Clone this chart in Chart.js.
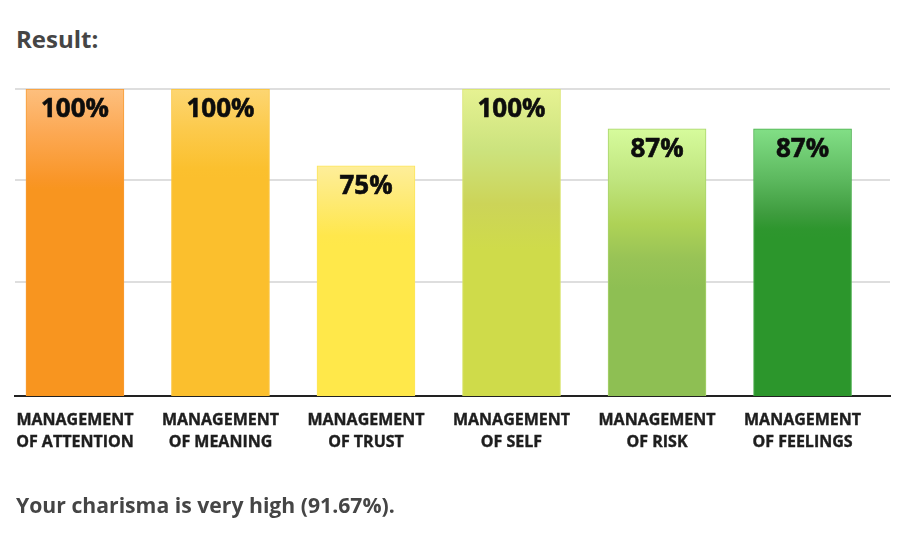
<!DOCTYPE html>
<html>
<head>
<meta charset="utf-8">
<script src="https://cdn.jsdelivr.net/npm/chart.js@4/dist/chart.umd.min.js"></script>
<style>
  html, body { margin: 0; padding: 0; background: #fff; }
  body { width: 909px; height: 535px; position: relative; overflow: hidden; font-family: 'Open Sans', sans-serif; }
  .txt { position: absolute; left: 16px; font-weight: 700; color: #454545; white-space: nowrap; }
  #head { top: 22px; font-size: 24px; }
  #foot { top: 490px; font-size: 21.2px; }
  #wrap { position: absolute; left: 0; top: 0; width: 909px; height: 535px; }
</style>
</head>
<body>
<div class="txt" id="head">Result:</div>
<div id="wrap"><canvas id="chart"></canvas></div>
<div class="txt" id="foot">Your charisma is very high (91.67%).</div>
<script>
// ---- data ----
const CATS = [
  ['MANAGEMENT', 'OF ATTENTION'],
  ['MANAGEMENT', 'OF MEANING'],
  ['MANAGEMENT', 'OF TRUST'],
  ['MANAGEMENT', 'OF SELF'],
  ['MANAGEMENT', 'OF RISK'],
  ['MANAGEMENT', 'OF FEELINGS']
];
const VALUES = [100, 100, 75, 100, 87, 87];
const GRID_TICKS = [37.1, 70.4, 100];

// ---- styles: gradient stops as [px below bar top, colour] ----
const STOPS = [
  [[0, '#fdbf7e'], [45, '#fca852'], [90, '#f99628'], [100, '#f8951f']],
  [[0, '#fdd672'], [40, '#fcca4c'], [80, '#fbc02e'], [90, '#fbbf2d']],
  [[0, '#feee9a'], [35, '#feea74'], [70, '#ffe74c'], [80, '#ffe84a']],
  [[0, '#e6f292'], [60, '#cce37e'], [115, '#ccd458'], [160, '#cfdb4a']],
  [[0, '#d6fb9c'], [50, '#c0e57f'], [95, '#aed256'], [130, '#98c356'], [160, '#8ebf53']],
  [[0, '#82df86'], [50, '#5db95f'], [85, '#3e9c3e'], [100, '#2e962e'], [110, '#2c962c']]
];
const BORDERS = ['#f89c34', '#fbc43a', '#fde55a', '#d8e46a', '#a9d46c', '#4cb04e'];
const FALLBACK = ['#f99628', '#fbc02e', '#ffe74c', '#cfdb4a', '#8ebf53', '#2c962c'];

function barFill(ctx) {
  const chart = ctx.chart;
  const i = ctx.dataIndex;
  if (!chart.chartArea || !chart.scales.y) return FALLBACK[i];
  const top = chart.scales.y.getPixelForValue(VALUES[i]);
  const stops = STOPS[i];
  const span = stops[stops.length - 1][0];
  const g = chart.ctx.createLinearGradient(0, top, 0, top + span);
  stops.forEach(([px, c]) => g.addColorStop(px / span, c));
  return g;
}

const valueLabels = {
  id: 'valueLabels',
  afterDatasetsDraw(chart) {
    const ctx = chart.ctx;
    const meta = chart.getDatasetMeta(0);
    ctx.save();
    ctx.font = "bold 26px 'Open Sans'";
    ctx.fillStyle = '#0d0d0d';
    ctx.strokeStyle = '#0d0d0d';
    ctx.lineWidth = 0.6;
    ctx.textAlign = 'center';
    ctx.textBaseline = 'middle';
    meta.data.forEach((bar, i) => {
      ctx.fillText(VALUES[i] + '%', bar.x, bar.y + 21);
      ctx.strokeText(VALUES[i] + '%', bar.x, bar.y + 21);
    });
    ctx.restore();
  }
};

new Chart(document.getElementById('chart'), {
  type: 'bar',
  data: {
    datasets: [{
      data: VALUES.map((v, i) => ({ x: i, y: v })),
      backgroundColor: barFill,
      borderColor: BORDERS,
      borderWidth: 1,
      borderSkipped: 'bottom',
      barThickness: 98
    }]
  },
  options: {
    responsive: true,
    maintainAspectRatio: false,
    animation: false,
    layout: { padding: { left: 15, right: 19, top: 89, bottom: 0 } },
    plugins: { legend: { display: false }, tooltip: { enabled: false } },
    scales: {
      x: {
        type: 'linear',
        offset: false,
        min: -0.412,
        max: 5.601,
        grid: { display: false, drawTicks: false, offset: false },
        border: { display: true, color: '#222', width: 2 },
        afterBuildTicks: s => { s.ticks = CATS.map((_, i) => ({ value: i })); },
        afterFit: s => { s.height = 139; },
        ticks: {
          autoSkip: false,
          maxRotation: 0,
          padding: 14,
          color: '#1e1e1e',
          textStrokeColor: '#1e1e1e',
          textStrokeWidth: 0.4,
          font: { family: "'Open Sans'", weight: 'bold', size: 16, lineHeight: 1.34 },
          callback: v => CATS[v]
        }
      },
      y: {
        min: 0,
        max: 100,
        afterBuildTicks: s => { s.ticks = GRID_TICKS.map(v => ({ value: v })); },
        afterFit: s => { s.width = 0; },
        grid: { color: '#dedede', lineWidth: 2, drawTicks: false },
        border: { display: false },
        ticks: { display: false }
      }
    }
  },
  plugins: [valueLabels]
});
</script>
</body>
</html>
